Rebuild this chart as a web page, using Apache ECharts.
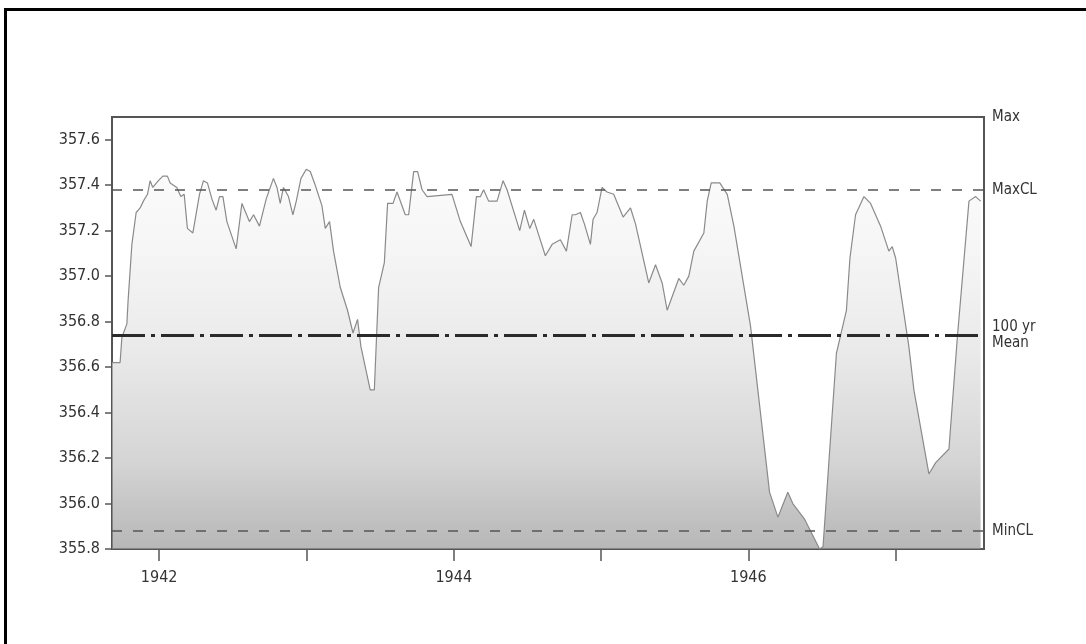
<!DOCTYPE html>
<html>
<head>
<meta charset="utf-8">
<script src="https://cdn.jsdelivr.net/npm/echarts@6/dist/echarts.min.js"></script>
<style>
html,body{margin:0;padding:0;background:#fff;}
#chart{width:1086px;height:644px;}
</style>
</head>
<body>
<div id="chart"></div>
<script>
// Decimal years of each reading
const years = [
  1941.681, 1941.735, 1941.747, 1941.781, 1941.789, 1941.815, 1941.844, 1941.871, 1941.893, 1941.921,
  1941.939, 1941.957, 1941.995, 1942.025, 1942.056, 1942.075, 1942.120, 1942.147, 1942.170, 1942.192,
  1942.229, 1942.274, 1942.301, 1942.328, 1942.358, 1942.387, 1942.410, 1942.433, 1942.460, 1942.523,
  1942.562, 1942.613, 1942.641, 1942.681, 1942.727, 1942.776, 1942.800, 1942.822, 1942.844, 1942.878,
  1942.908, 1942.931, 1942.963, 1942.999, 1943.026, 1943.060, 1943.105, 1943.128, 1943.157, 1943.184,
  1943.230, 1943.279, 1943.316, 1943.347, 1943.370, 1943.433, 1943.461, 1943.490, 1943.529, 1943.551,
  1943.588, 1943.615, 1943.671, 1943.694, 1943.728, 1943.755, 1943.785, 1943.819, 1943.988, 1944.045,
  1944.118, 1944.154, 1944.181, 1944.203, 1944.237, 1944.294, 1944.335, 1944.362, 1944.448, 1944.480,
  1944.516, 1944.543, 1944.622, 1944.668, 1944.724, 1944.765, 1944.804, 1944.826, 1944.860, 1944.887,
  1944.928, 1944.946, 1944.973, 1945.007, 1945.041, 1945.086, 1945.150, 1945.200, 1945.234, 1945.324,
  1945.370, 1945.415, 1945.449, 1945.528, 1945.562, 1945.596, 1945.630, 1945.698, 1945.721, 1945.748,
  1945.770, 1945.806, 1945.857, 1945.902, 1946.015, 1946.144, 1946.201, 1946.268, 1946.302, 1946.383,
  1946.484, 1946.507, 1946.598, 1946.666, 1946.690, 1946.728, 1946.785, 1946.830, 1946.898, 1946.954,
  1946.977, 1947.000, 1947.090, 1947.124, 1947.226, 1947.272, 1947.362, 1947.419, 1947.498, 1947.543,
  1947.577
];
// Water level (ft) at each reading
const levels = [
  356.62, 356.62, 356.73, 356.79, 356.89, 357.14, 357.28, 357.30, 357.33, 357.36,
  357.42, 357.39, 357.42, 357.44, 357.44, 357.41, 357.39, 357.35, 357.36, 357.21,
  357.19, 357.36, 357.42, 357.41, 357.34, 357.29, 357.35, 357.35, 357.24, 357.12,
  357.32, 357.24, 357.27, 357.22, 357.34, 357.43, 357.39, 357.32, 357.39, 357.35,
  357.27, 357.33, 357.43, 357.47, 357.46, 357.40, 357.31, 357.21, 357.24, 357.11,
  356.95, 356.85, 356.75, 356.81, 356.69, 356.50, 356.50, 356.95, 357.06, 357.32,
  357.32, 357.37, 357.27, 357.27, 357.46, 357.46, 357.38, 357.35, 357.36, 357.24,
  357.13, 357.35, 357.35, 357.38, 357.33, 357.33, 357.42, 357.38, 357.20, 357.29,
  357.21, 357.25, 357.09, 357.14, 357.16, 357.11, 357.27, 357.27, 357.28, 357.23,
  357.14, 357.25, 357.28, 357.39, 357.37, 357.36, 357.26, 357.30, 357.23, 356.97,
  357.05, 356.97, 356.85, 356.99, 356.96, 357.00, 357.11, 357.19, 357.33, 357.41,
  357.41, 357.41, 357.36, 357.22, 356.78, 356.05, 355.94, 356.05, 356.00, 355.93,
  355.80, 355.81, 356.66, 356.85, 357.08, 357.27, 357.35, 357.32, 357.22, 357.11,
  357.13, 357.08, 356.69, 356.50, 356.13, 356.18, 356.24, 356.73, 357.33, 357.35,
  357.33
];
// Axis ticks and labels
const xTickYears = [1942, 1943, 1944, 1945, 1946, 1947];
const xLabelYears = [1942, 1944, 1946];
const yTickValues = [355.8, 356.0, 356.2, 356.4, 356.6, 356.8, 357.0, 357.2, 357.4, 357.6];
// Reference lines
const refNames = ['Max', 'MaxCL', '100 yr\nMean', 'MinCL'];
const refValues = [357.7, 357.38, 356.735, 355.883];

const FONT = "'Liberation Sans Narrow', 'DejaVu Sans Condensed', 'Liberation Sans', sans-serif";
const seriesData = years.map((y, i) => [y, levels[i]]);

const refStyles = [
  { color: 'transparent', width: 0, type: 'solid' },
  { color: '#555', width: 1.5, type: [10, 11] },
  { color: '#2a2a2a', width: 3, type: [33, 6, 4, 6] },
  { color: '#555', width: 1.5, type: [10, 11] }
];

const chart = echarts.init(document.getElementById('chart'), null, { renderer: 'canvas' });
chart.setOption({
  backgroundColor: '#fff',
  animation: false,
  graphic: [{
    type: 'rect', silent: true, z: 100,
    shape: { x: 5.5, y: 9.5, width: 1200, height: 1000 },
    style: { fill: 'none', stroke: '#000', lineWidth: 3 }
  }],
  grid: { left: 112, top: 117, right: 102, bottom: 95, show: true, borderColor: '#555', borderWidth: 2, backgroundColor: 'transparent', containLabel: false },
  xAxis: {
    type: 'value', min: 1941.68, max: 1947.6,
    splitLine: { show: false },
    axisLine: { show: true, onZero: false, lineStyle: { color: '#555', width: 2 } },
    axisTick: { show: true, customValues: xTickYears, length: 12, lineStyle: { color: '#555', width: 1.5 } },
    axisLabel: { customValues: xLabelYears, margin: 21, color: '#333', fontFamily: FONT, fontSize: 16, formatter: v => String(Math.round(v)) }
  },
  yAxis: {
    type: 'value', min: 355.8, max: 357.7,
    splitLine: { show: false },
    axisLine: { show: true, lineStyle: { color: '#555', width: 2 } },
    axisTick: { show: true, customValues: yTickValues, length: 7, lineStyle: { color: '#555', width: 1.5 } },
    axisLabel: { customValues: yTickValues, margin: 12, color: '#333', fontFamily: FONT, fontSize: 16, formatter: v => v.toFixed(1) }
  },
  series: [{
    type: 'line',
    data: seriesData,
    showSymbol: false,
    symbol: 'none',
    lineStyle: { color: '#8a8a8a', width: 1.2 },
    areaStyle: {
      origin: 'start',
      color: {
        type: 'linear', global: true, x: 0, y: 117, x2: 0, y2: 549,
        colorStops: [
          { offset: 0, color: '#ffffff' },
          { offset: 0.3, color: '#f2f2f2' },
          { offset: 0.55, color: '#e0e0e0' },
          { offset: 0.8, color: '#c2c2c2' },
          { offset: 1, color: '#989898' }
        ]
      }
    },
    markLine: {
      silent: true,
      symbol: 'none',
      animation: false,
      data: refValues.map((v, i) => ({
        yAxis: v,
        lineStyle: refStyles[i],
        label: {
          show: true, position: 'end', distance: 8, formatter: refNames[i],
          color: '#333', fontFamily: FONT, fontSize: 15, lineHeight: 16,
          align: 'left',
          padding: i === 2 ? [16, 0, 0, 0] : 0
        }
      }))
    }
  }]
});
</script>
</body>
</html>
